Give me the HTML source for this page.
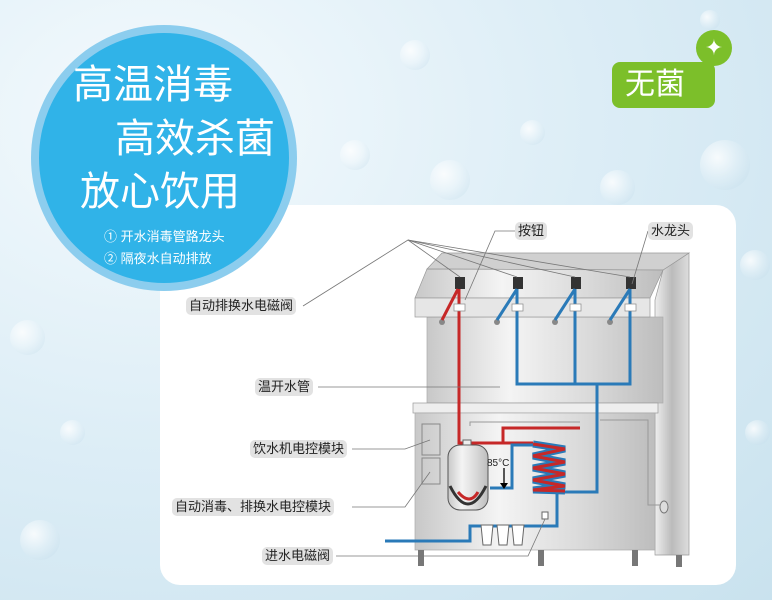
<!DOCTYPE html>
<html><head><meta charset="utf-8"><style>
html,body{margin:0;padding:0}
body{width:772px;height:600px;overflow:hidden;position:relative;font-family:"Liberation Sans","Noto Sans CJK SC",sans-serif;
background:radial-gradient(ellipse at 20% 20%,#f4fafd 0%,#dcedf6 50%,#c9e2ee 100%);}
.b{position:absolute;border-radius:50%;background:radial-gradient(circle at 35% 35%,rgba(255,255,255,.8) 0%,rgba(255,255,255,.2) 45%,rgba(170,205,225,.35) 100%)}
.panel{position:absolute;left:160px;top:205px;width:576px;height:380px;background:#fff;border-radius:20px}
.circ{position:absolute;left:31px;top:25px;width:266px;height:266px;border-radius:50%;background:#8ccdee}
.circ2{position:absolute;left:39px;top:33px;width:250px;height:250px;border-radius:50%;background:#30b3e8}
.t{position:absolute;color:#fff;white-space:nowrap}
.lbl{position:absolute;background:#e2e2e2;border-radius:5px;font-size:13px;color:#222;line-height:18px;padding:0 3px;white-space:nowrap}
</style></head><body>
<div class="b" style="left:340px;top:140px;width:30px;height:30px"></div>
<div class="b" style="left:430px;top:160px;width:40px;height:40px"></div>
<div class="b" style="left:520px;top:120px;width:25px;height:25px"></div>
<div class="b" style="left:600px;top:170px;width:35px;height:35px"></div>
<div class="b" style="left:700px;top:140px;width:50px;height:50px"></div>
<div class="b" style="left:740px;top:250px;width:30px;height:30px"></div>
<div class="b" style="left:745px;top:420px;width:25px;height:25px"></div>
<div class="b" style="left:10px;top:320px;width:35px;height:35px"></div>
<div class="b" style="left:60px;top:420px;width:25px;height:25px"></div>
<div class="b" style="left:20px;top:520px;width:40px;height:40px"></div>
<div class="b" style="left:400px;top:40px;width:30px;height:30px"></div>
<div class="b" style="left:700px;top:10px;width:20px;height:20px"></div>
<div class="panel"></div>
<div class="circ"></div><div class="circ2"></div>
<div class="t" style="left:73px;top:63px;font-size:40px;line-height:44px">高温消毒</div>
<div class="t" style="left:115px;top:117px;font-size:40px;line-height:44px">高效杀菌</div>
<div class="t" style="left:80px;top:170px;font-size:40px;line-height:44px">放心饮用</div>
<div class="t" style="left:104px;top:226px;font-size:13px">① 开水消毒管路龙头</div>
<div class="t" style="left:104px;top:248px;font-size:13px">② 隔夜水自动排放</div>
<div style="position:absolute;left:612px;top:62px;width:103px;height:46px;background:#7cbf2a;border-radius:8px"></div>
<div style="position:absolute;left:696px;top:30px;width:36px;height:36px;border-radius:50%;background:#7cbf2a;color:#fff;font-size:22px;line-height:36px;text-align:center">✦</div>
<div class="t" style="left:625px;top:66px;font-size:30px;line-height:38px">无菌</div>

<svg style="position:absolute;left:0;top:0" width="772" height="600">
<defs>
<linearGradient id="m" x1="0" x2="1"><stop offset="0" stop-color="#c8c8c8"/><stop offset=".35" stop-color="#f4f4f4"/><stop offset=".7" stop-color="#d9d9d9"/><stop offset="1" stop-color="#bdbdbd"/></linearGradient>
<linearGradient id="s" x1="0" x2="1"><stop offset="0" stop-color="#eee"/><stop offset=".5" stop-color="#bbb"/><stop offset="1" stop-color="#ddd"/></linearGradient>
</defs>
<polygon points="663,270 689,253 689,555 655,555 655,300" fill="url(#s)" stroke="#999" stroke-width=".7"/>
<rect x="427" y="317" width="236" height="86" fill="url(#m)" stroke="#aaa" stroke-width=".7"/>
<polygon points="427,269 442,253 689,253 663,270" fill="#d0d0d0" stroke="#999" stroke-width=".7"/>
<polygon points="427,269 663,270 650,298 415,298" fill="url(#m)" stroke="#999" stroke-width=".7"/>
<rect x="415" y="298" width="235" height="19" fill="#e6e6e6" stroke="#999" stroke-width=".7"/>
<rect x="413" y="403" width="245" height="10" fill="#eee" stroke="#999" stroke-width=".7"/>
<rect x="415" y="413" width="240" height="137" fill="url(#m)" stroke="#aaa" stroke-width=".7"/>
<rect x="422" y="424" width="18" height="31" fill="none" stroke="#888"/>
<rect x="422" y="458" width="18" height="26" fill="none" stroke="#888"/>
<polyline points="600,420 648,420 648,505 663,505" fill="none" stroke="#999"/>
<ellipse cx="664" cy="507" rx="4" ry="6" fill="#ddd" stroke="#777"/>
<g fill="#777"><rect x="418" y="550" width="6" height="16"/><rect x="538" y="550" width="6" height="16"/><rect x="632" y="550" width="6" height="16"/><rect x="676" y="555" width="6" height="12"/></g>
<g fill="#333"><rect x="455" y="277" width="10" height="12"/><rect x="513" y="277" width="10" height="12"/><rect x="571" y="277" width="10" height="12"/><rect x="626" y="277" width="10" height="12"/></g>
<g fill="#888"><circle cx="442" cy="322" r="3"/><circle cx="497" cy="322" r="3"/><circle cx="555" cy="322" r="3"/><circle cx="610" cy="322" r="3"/></g>
<g fill="none" stroke-width="3">
<line x1="458" y1="289" x2="442" y2="320" stroke="#c62828"/>
<line x1="517" y1="289" x2="497" y2="320" stroke="#2a7ab8"/>
<line x1="575" y1="289" x2="555" y2="320" stroke="#2a7ab8"/>
<line x1="630" y1="289" x2="610" y2="320" stroke="#2a7ab8"/>
<polyline points="459,289 459,443 533,443" stroke="#c62828"/>
<polyline points="503,443 503,428 580,428" stroke="#c62828"/>
<polyline points="517,289 517,384 630,384 630,289" stroke="#2a7ab8"/>
<line x1="575" y1="289" x2="575" y2="384" stroke="#2a7ab8"/>
<polyline points="597,384 597,492 562,492" stroke="#2a7ab8"/>
<polyline points="490,488 512,488 512,445 533,445" stroke="#2a7ab8"/>
<polyline points="557,492 557,526 470,526 470,541 385,541" stroke="#2a7ab8"/>
<polyline points="533,444 565,449 533,456 565,462 533,468 565,474 533,480 565,486 533,490 565,491" stroke="#2a7ab8" stroke-width="7"/>
<polyline points="533,444 565,449 533,456 565,462 533,468 565,474 533,480 565,486 533,490 565,491" stroke="#c62828" stroke-width="3"/>
</g>
<g fill="#fff" stroke="#888" stroke-width=".7"><rect x="454" y="304" width="11" height="7"/><rect x="512" y="304" width="11" height="7"/><rect x="570" y="304" width="11" height="7"/><rect x="625" y="304" width="11" height="7"/></g>
<polyline points="470,426 470,422 580,422" fill="none" stroke="#999"/>
<rect x="448" y="445" width="40" height="65" rx="12" fill="url(#m)" stroke="#555"/>
<path d="M450,486 Q468,522 486,486" fill="none" stroke="#333" stroke-width="3"/>
<path d="M458,492 Q470,506 478,492" fill="none" stroke="#c62828" stroke-width="3"/>
<rect x="463" y="440" width="8" height="5" fill="#eee" stroke="#666"/>
<text x="487" y="466" font-size="10" fill="#222" font-family="Liberation Sans">85°C</text>
<line x1="504" y1="468" x2="504" y2="484" stroke="#000" stroke-width="1.3"/>
<polygon points="500,483 508,483 504,489" fill="#000"/>
<g fill="#fff" stroke="#666"><path d="M481,525 h12 l-2,20 h-8z"/><path d="M497,525 h12 l-2,20 h-8z"/><path d="M512,525 h12 l-2,20 h-8z"/></g>
<rect x="542" y="512" width="6" height="7" fill="#fff" stroke="#666"/>
<g fill="none" stroke="#777" stroke-width=".8">
<polyline points="303,306 408,240 460,277"/>
<line x1="408" y1="240" x2="517" y2="277"/><line x1="408" y1="240" x2="575" y2="277"/><line x1="408" y1="240" x2="630" y2="277"/>
<polyline points="515,231 495,231 465,300"/>
<line x1="648" y1="231" x2="632" y2="284"/>
<line x1="318" y1="387" x2="500" y2="387"/>
<polyline points="352,449 405,449 430,440"/>
<polyline points="352,507 405,507 430,472"/>
<polyline points="336,556 528,556 545,519"/>
</g>
</svg>
<div class="lbl" style="left:515px;top:222px">按钮</div>
<div class="lbl" style="left:648px;top:222px">水龙头</div>
<div class="lbl" style="left:186px;top:297px">自动排换水电磁阀</div>
<div class="lbl" style="left:255px;top:378px">温开水管</div>
<div class="lbl" style="left:250px;top:440px">饮水机电控模块</div>
<div class="lbl" style="left:172px;top:498px">自动消毒、排换水电控模块</div>
<div class="lbl" style="left:262px;top:547px">进水电磁阀</div>
</body></html>
